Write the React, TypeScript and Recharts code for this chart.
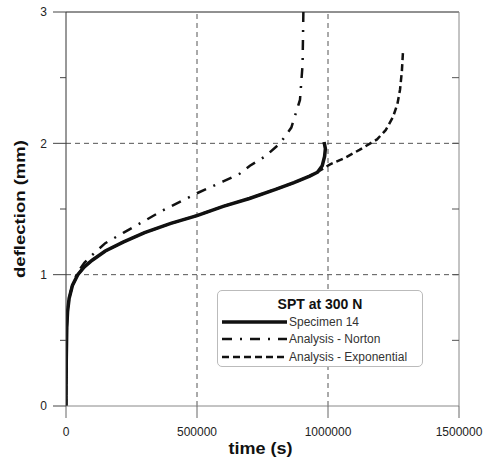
import { LineChart, Line, XAxis, YAxis, ReferenceLine, Legend } from 'recharts'

const FONT = '"Liberation Sans", Arial, sans-serif'
const INK = '#111'

// time (s) / deflection (mm)
const specimenTime = [0, 1000, 3000, 6000, 12000, 25000, 45000, 70000, 100000, 150000, 220000, 300000, 400000, 500000, 600000, 700000, 800000, 870000, 930000, 960000, 978000, 987000, 990000, 985000]
const specimenDefl = [0, 0.35, 0.6, 0.72, 0.82, 0.92, 1.0, 1.06, 1.11, 1.18, 1.25, 1.32, 1.39, 1.45, 1.52, 1.58, 1.65, 1.7, 1.75, 1.78, 1.83, 1.9, 1.96, 2.01]

const nortonTime = [0, 1000, 3000, 6000, 12000, 25000, 45000, 70000, 100000, 150000, 220000, 300000, 370000, 500000, 600000, 664000, 702000, 760000, 817000, 860000, 893000, 903000, 906000]
const nortonDefl = [0, 0.35, 0.6, 0.72, 0.82, 0.93, 1.02, 1.09, 1.15, 1.24, 1.32, 1.41, 1.49, 1.62, 1.71, 1.77, 1.83, 1.9, 2.0, 2.12, 2.33, 2.6, 3.0]

const expTime = [0, 1000, 3000, 6000, 12000, 25000, 45000, 70000, 100000, 150000, 220000, 300000, 400000, 500000, 600000, 700000, 800000, 870000, 930000, 958000, 1008000, 1065000, 1120000, 1187000, 1220000, 1248000, 1265000, 1275000, 1282000, 1286000]
const expDefl = [0, 0.35, 0.6, 0.72, 0.82, 0.92, 1.0, 1.06, 1.11, 1.18, 1.25, 1.32, 1.39, 1.45, 1.52, 1.58, 1.65, 1.7, 1.75, 1.78, 1.84, 1.89, 1.95, 2.03, 2.1, 2.2, 2.3, 2.41, 2.55, 2.69]

const seriesNames = ['Specimen 14', 'Analysis - Norton', 'Analysis - Exponential']

const xTicks = [0, 500000, 1000000, 1500000]
const yTicks = [0, 0.5, 1, 1.5, 2, 2.5, 3]
const xGrid = [500000, 1000000]
const yGrid = [1, 2]

const legendTitle = 'SPT at 300 N'

const zip = (t: number[], d: number[]) => t.map((v, i) => ({ t: v, d: d[i] }))
const specimen = zip(specimenTime, specimenDefl)
const norton = zip(nortonTime, nortonDefl)
const exponential = zip(expTime, expDefl)

function LeftTick(props: any) {
  const { x, y, payload } = props
  const axisX = x + 19
  const major = Number.isInteger(payload.value)
  return (
    <g>
      <line x1={axisX - (major ? 13 : 6)} x2={axisX} y1={y} y2={y} stroke="#444" strokeWidth={1} />
      {major && (
        <text x={x} y={y} dy="0.35em" textAnchor="end" fontFamily={FONT} fontSize={12} fill="#222">
          {payload.value}
        </text>
      )}
    </g>
  )
}

// right frame: short inward ticks, no labels
function RightTick(props: any) {
  const { x, y, payload } = props
  if (payload.value === 0 || payload.value === 3) return <g />
  return <line x1={x - 7} x2={x} y1={y} y2={y} stroke="#555" strokeWidth={1} />
}

function XTitle(props: any) {
  const vb = props.viewBox
  return (
    <text x={vb.x + vb.width / 2 - 2} y={vb.y + 48} textAnchor="middle" fontFamily={FONT} fontWeight="bold" fontSize={16}
      textLength={64} lengthAdjust="spacingAndGlyphs" fill={INK}>
      time (s)
    </text>
  )
}

function YTitle(props: any) {
  const vb = props.viewBox
  const cx = vb.x + 25
  const cy = vb.y + vb.height / 2
  return (
    <text x={cx} y={cy} textAnchor="middle" transform={`rotate(-90, ${cx}, ${cy})`} fontFamily={FONT} fontWeight="bold"
      fontSize={15} textLength={138} lengthAdjust="spacingAndGlyphs" fill={INK}>
      deflection (mm)
    </text>
  )
}

function LegendBox({ payload }: any) {
  const items = [...(payload || [])].sort((a: any, b: any) => seriesNames.indexOf(a.value) - seriesNames.indexOf(b.value))
  return (
    <div style={{ width: 204, height: 75, border: '1px solid #bbb', borderRadius: 5, background: '#fff', fontFamily: FONT, color: '#333', boxSizing: 'content-box' }}>
      <div style={{ textAlign: 'center', fontWeight: 'bold', fontSize: 14, marginTop: 5, height: 17, color: INK }}>{legendTitle}</div>
      {items.map((p: any) => (
        <div key={p.value} style={{ display: 'flex', alignItems: 'center', height: 17.5 }}>
          <svg width={71} height={10} style={{ display: 'block' }}>
            <line x1={4} x2={69} y1={5} y2={5} stroke={INK} strokeWidth={p.payload?.strokeWidth ?? 2.5}
              strokeDasharray={p.payload?.strokeDasharray} />
          </svg>
          <span style={{ fontSize: 12, whiteSpace: 'nowrap' }}>{p.value}</span>
        </div>
      ))}
    </div>
  )
}

export default function App() {
  return (
    <div style={{ position: 'absolute', left: 0, top: 0, width: 483, height: 466, background: '#fff' }}>
      <LineChart width={483} height={466} margin={{ top: 12, right: 0, left: 0, bottom: 0 }}>
        <XAxis type="number" dataKey="t" domain={[0, 1500000]} ticks={xTicks} interval={0} height={60}
          tickSize={12} tickMargin={9} axisLine={{ stroke: '#888' }} tickLine={{ stroke: '#666' }}
          tick={{ fontFamily: FONT, fontSize: 12, fill: '#222' }} label={<XTitle />} allowDataOverflow />
        <YAxis type="number" domain={[0, 3]} ticks={yTicks} interval={0} width={66} tickSize={13} tickMargin={6}
          axisLine={{ stroke: '#333' }} tickLine={false} tick={<LeftTick />} label={<YTitle />} allowDataOverflow />
        <YAxis yAxisId="r" orientation="right" type="number" domain={[0, 3]} ticks={yTicks} interval={0} width={24}
          tickSize={0} tickMargin={0} axisLine={{ stroke: '#888' }} tickLine={false} tick={<RightTick />} allowDataOverflow />
        {yGrid.map(v => (
          <ReferenceLine key={'y' + v} y={v} stroke="#555" strokeDasharray="5 4" />
        ))}
        {xGrid.map(v => (
          <ReferenceLine key={'x' + v} x={v} stroke="#555" strokeDasharray="5 4" />
        ))}
        <ReferenceLine y={3} stroke="#222" />
        <Line data={specimen} dataKey="d" name={seriesNames[0]} type="linear" stroke={INK} strokeWidth={3.5} dot={false}
          isAnimationActive={false} />
        <Line data={norton} dataKey="d" name={seriesNames[1]} type="linear" stroke={INK} strokeWidth={2.5}
          strokeDasharray="10 8 2 8" dot={false} isAnimationActive={false} />
        {/* same [0,3] scale as the left axis; plotted on the right one so its ticks get laid out */}
        <Line yAxisId="r" data={exponential} dataKey="d" name={seriesNames[2]} type="linear" stroke={INK} strokeWidth={2.5}
          strokeDasharray="7 4" dot={false} isAnimationActive={false} />
        <Legend layout="vertical" align="center" verticalAlign="middle" content={<LegendBox />}
          wrapperStyle={{ left: 217, top: 290, width: 206, height: 77, transform: 'none' }} />
      </LineChart>
    </div>
  )
}
